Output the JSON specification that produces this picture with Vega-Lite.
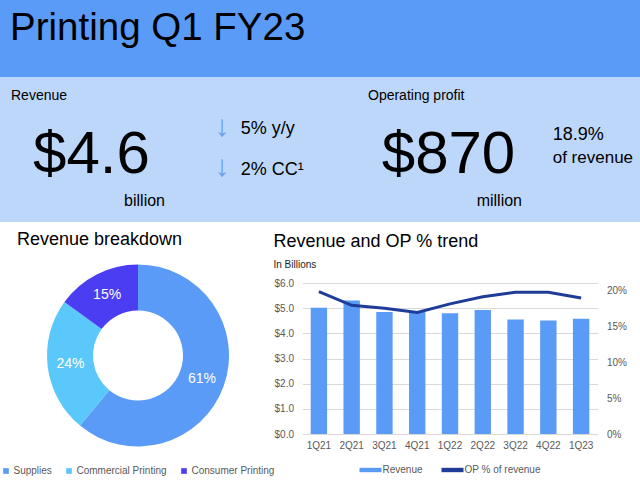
{
  "$schema": "https://vega.github.io/schema/vega-lite/v6.json",
  "background": "#ffffff",
  "padding": 0,
  "spacing": 9,
  "config": {"view": {"stroke": null}, "font": "Liberation Sans", "legend": {"layout": {"bottom": {"anchor": "middle"}}}},
  "vconcat": [
    {
      "spacing": 0,
      "vconcat": [
        {
          "width": 640,
          "height": 77,
          "view": {"fill": "#5B9BF8", "stroke": null},
          "data": {"values": [{"title": "Printing Q1 FY23"}]},
          "mark": {"type": "text", "align": "left", "baseline": "alphabetic", "fontSize": 38.5, "color": "#000000", "dx": 10, "dy": 1.5},
          "encoding": {
            "x": {"field": "title", "type": "nominal", "bandPosition": 0, "scale": {"type": "band", "paddingInner": 0, "paddingOuter": 0}, "axis": null},
            "text": {"field": "title"}
          }
        },
        {
          "width": 640,
          "height": 145,
          "view": {"fill": "#BDD7FB", "stroke": null},
          "data": {"values": [
            {"metric": "Revenue", "part": "label", "text": "Revenue"},
            {"metric": "Operating profit", "part": "label", "text": "Operating profit"},
            {"metric": "Revenue", "part": "value", "text": "$4.6"},
            {"metric": "Operating profit", "part": "value", "text": "$870"},
            {"metric": "Revenue", "part": "unit", "text": "billion"},
            {"metric": "Operating profit", "part": "unit", "text": "million"},
            {"metric": "Revenue", "part": "arrow1", "text": "↓"},
            {"metric": "Revenue", "part": "arrow2", "text": "↓"},
            {"metric": "Revenue", "part": "change1", "text": "5% y/y"},
            {"metric": "Revenue", "part": "change2", "text": "2% CC¹"},
            {"metric": "Operating profit", "part": "share1", "text": "18.9%"},
            {"metric": "Operating profit", "part": "share2", "text": "of revenue"}
          ]},
          "encoding": {
            "x": {"field": "metric", "type": "nominal", "bandPosition": 0, "scale": {"type": "band", "domain": ["Revenue", "Operating profit"], "range": [11, 725], "paddingInner": 0, "paddingOuter": 0}, "axis": null},
            "text": {"field": "text"}
          },
          "layer": [
            {"transform": [{"filter": "datum.part === 'label'"}], "mark": {"type": "text", "align": "left", "baseline": "alphabetic", "fontSize": 14, "dy": -49.5, "color": "#000000"}},
            {"transform": [{"filter": "datum.part === 'value'"}], "mark": {"type": "text", "align": "center", "baseline": "alphabetic", "fontSize": 60, "dx": 80.5, "dy": 23, "color": "#000000"}},
            {"transform": [{"filter": "datum.part === 'unit'"}], "mark": {"type": "text", "align": "right", "baseline": "alphabetic", "fontSize": 16, "dx": 154, "dy": 56.5, "color": "#000000"}},
            {"transform": [{"filter": "datum.part === 'arrow1'"}], "mark": {"type": "text", "align": "center", "baseline": "middle", "fontSize": 30, "dx": 211, "dy": -23, "color": "#6A9EF2"}},
            {"transform": [{"filter": "datum.part === 'arrow2'"}], "mark": {"type": "text", "align": "center", "baseline": "middle", "fontSize": 30, "dx": 211, "dy": 17.5, "color": "#6A9EF2"}},
            {"transform": [{"filter": "datum.part === 'change1'"}], "mark": {"type": "text", "align": "left", "baseline": "alphabetic", "fontSize": 18, "dx": 229.7, "dy": -16, "color": "#000000"}},
            {"transform": [{"filter": "datum.part === 'change2'"}], "mark": {"type": "text", "align": "left", "baseline": "alphabetic", "fontSize": 18, "dx": 229.7, "dy": 25.5, "color": "#000000"}},
            {"transform": [{"filter": "datum.part === 'share1'"}], "mark": {"type": "text", "align": "left", "baseline": "alphabetic", "fontSize": 18, "dx": 184.7, "dy": -10, "color": "#000000"}},
            {"transform": [{"filter": "datum.part === 'share2'"}], "mark": {"type": "text", "align": "left", "baseline": "alphabetic", "fontSize": 17, "dx": 184.7, "dy": 13, "color": "#000000"}}
          ]
        }
      ]
    },
    {
      "bounds": "flush",
      "spacing": 26.5,
      "resolve": {"scale": {"color": "independent"}, "legend": {"color": "independent"}},
      "hconcat": [
        {
          "width": 276,
          "height": 145,
          "title": {"text": "Revenue breakdown", "anchor": "start", "frame": "group", "dx": 17, "offset": 15.5, "fontSize": 18, "fontWeight": "normal", "color": "#000000"},
          "data": {"values": [
            {"segment": "Supplies", "share": 0.61, "rank": 1},
            {"segment": "Commercial Printing", "share": 0.24, "rank": 2},
            {"segment": "Consumer Printing", "share": 0.15, "rank": 3}
          ]},
          "encoding": {
            "theta": {"field": "share", "type": "quantitative", "stack": true},
            "order": {"field": "rank", "type": "quantitative"}
          },
          "layer": [
            {
              "mark": {"type": "arc", "outerRadius": 91, "innerRadius": 45},
              "encoding": {
                "color": {"field": "segment", "type": "nominal", "sort": null,
                  "scale": {"domain": ["Supplies", "Commercial Printing", "Consumer Printing"], "range": ["#5B9BF8", "#5BC8FB", "#4B3DF2"]},
                  "legend": {"title": null, "orient": "bottom", "direction": "horizontal", "symbolType": "square", "symbolSize": 32, "labelFontSize": 10, "labelColor": "#595959", "columnPadding": 12, "labelOffset": 2.5, "offset": 37.5}}
              }
            },
            {
              "mark": {"type": "text", "radius": 68, "fontSize": 14, "color": "#ffffff"},
              "encoding": {"text": {"field": "share", "type": "quantitative", "format": ".0%"}}
            }
          ]
        },
        {
          "width": 295,
          "height": 151,
          "title": {"text": "Revenue and OP % trend", "subtitle": "In Billions", "anchor": "start", "frame": "group", "dx": -29, "offset": 8, "fontSize": 18, "fontWeight": "normal", "color": "#000000", "subtitleFontSize": 10, "subtitleColor": "#222222", "subtitlePadding": 9},
          "data": {"values": [
            {"quarter": "1Q21", "revenue": 5.02, "op": 0.198},
            {"quarter": "2Q21", "revenue": 5.30, "op": 0.179},
            {"quarter": "3Q21", "revenue": 4.85, "op": 0.175},
            {"quarter": "4Q21", "revenue": 4.88, "op": 0.169},
            {"quarter": "1Q22", "revenue": 4.80, "op": 0.181},
            {"quarter": "2Q22", "revenue": 4.93, "op": 0.191},
            {"quarter": "3Q22", "revenue": 4.55, "op": 0.197},
            {"quarter": "4Q22", "revenue": 4.51, "op": 0.197},
            {"quarter": "1Q23", "revenue": 4.58, "op": 0.189}
          ]},
          "encoding": {
            "x": {"field": "quarter", "type": "nominal", "sort": null, "scale": {"paddingInner": 0.5, "paddingOuter": 0.25},
              "axis": {"title": null, "labelAngle": 0, "labelFontSize": 10, "labelColor": "#595959", "ticks": false, "tickSize": 0, "domainColor": "#D9D9D9", "labelPadding": 6}}
          },
          "layer": [
            {
              "mark": {"type": "bar"},
              "encoding": {
                "y": {"field": "revenue", "type": "quantitative", "scale": {"domain": [0, 6]},
                  "axis": {"title": null, "format": "$.1f", "values": [0, 1, 2, 3, 4, 5, 6], "grid": true, "gridColor": "#D9D9D9", "domain": false, "ticks": false, "tickSize": 0, "labelPadding": 9, "labelFontSize": 10, "labelColor": "#595959"}},
                "color": {"datum": "Revenue", "scale": {"domain": ["Revenue", "OP % of revenue"], "range": ["#5B9BF8", "#1F3C99"]},
                  "legend": {"title": null, "orient": "bottom", "direction": "horizontal", "symbolType": "M-1,-0.2H1V0.2H-1Z", "symbolSize": 484, "symbolStrokeWidth": 0, "labelFontSize": 10, "labelColor": "#595959", "labelOffset": 1, "columnPadding": 18, "offset": 9}}
              }
            },
            {
              "mark": {"type": "line", "strokeWidth": 3},
              "encoding": {
                "y": {"field": "op", "type": "quantitative", "scale": {"domain": [0, 0.21]},
                  "axis": {"orient": "right", "title": null, "format": ".0%", "values": [0, 0.05, 0.1, 0.15, 0.2], "grid": false, "domain": false, "ticks": false, "tickSize": 0, "labelPadding": 9, "labelFontSize": 10, "labelColor": "#595959"}},
                "color": {"datum": "OP % of revenue"}
              }
            }
          ],
          "resolve": {"scale": {"y": "independent"}}
        }
      ]
    }
  ]
}
